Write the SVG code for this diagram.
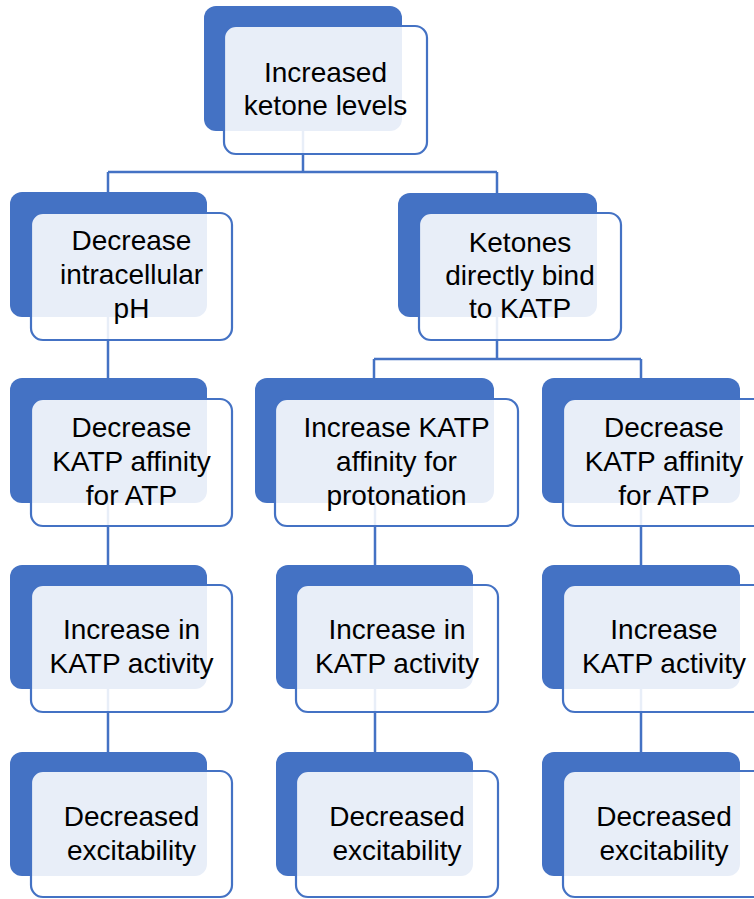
<svg xmlns="http://www.w3.org/2000/svg" width="754" height="899" viewBox="0 0 754 899">
<defs>
<style>
.bk{fill:#4472C4;}
.fr{fill:#FFFFFF;fill-opacity:0.88;stroke:#4472C4;stroke-width:2.2;}
.ln{stroke:#4472C4;stroke-width:2.5;fill:none;}
text{font-family:"Liberation Sans",Arial,sans-serif;font-size:28px;fill:#000;text-anchor:middle;}
</style>
</defs>
<rect width="754" height="899" fill="#FFFFFF"/>
<g id="connectors">
<path class="ln" d="M303,131 V172 M108,172 H497 M108,172 V192 M497,172 V193"/>
<path class="ln" d="M108,317 V378 M108,503 V565 M108,689 V752"/>
<path class="ln" d="M497,317 V359 M374,359 H641 M374,359 V378 M641,359 V378"/>
<path class="ln" d="M375,503 V565 M375,689 V752"/>
<path class="ln" d="M641,503 V565 M641,689 V752"/>
</g>
<g id="n1">
<rect class="bk" x="204" y="6" width="198" height="125" rx="12"/>
<rect class="fr" x="224" y="26" width="203" height="128" rx="12"/>
<text x="325.5" y="82">Increased</text>
<text x="325.5" y="115">ketone levels</text>
</g>
<g id="n2">
<rect class="bk" x="10" y="192" width="197" height="125" rx="12"/>
<rect class="fr" x="31" y="213" width="201" height="127" rx="12"/>
<text x="131.5" y="250">Decrease</text>
<text x="131.5" y="284">intracellular</text>
<text x="131.5" y="318">pH</text>
</g>
<g id="n3">
<rect class="bk" x="398" y="193" width="199" height="124" rx="12"/>
<rect class="fr" x="419" y="213" width="202" height="127" rx="12"/>
<text x="520" y="252">Ketones</text>
<text x="520" y="285">directly bind</text>
<text x="520" y="318">to KATP</text>
</g>
<g id="n4">
<rect class="bk" x="10" y="378" width="197" height="125" rx="12"/>
<rect class="fr" x="31" y="399" width="201" height="127" rx="12"/>
<text x="131.5" y="437">Decrease</text>
<text x="131.5" y="471">KATP affinity</text>
<text x="131.5" y="505">for ATP</text>
</g>
<g id="n5">
<rect class="bk" x="255" y="378" width="239" height="125" rx="12"/>
<rect class="fr" x="275" y="399" width="243" height="127" rx="12"/>
<text x="396.5" y="437">Increase KATP</text>
<text x="396.5" y="471">affinity for</text>
<text x="396.5" y="505">protonation</text>
</g>
<g id="n6">
<rect class="bk" x="542" y="378" width="198" height="125" rx="12"/>
<rect class="fr" x="563" y="399" width="203" height="127" rx="12"/>
<text x="664" y="437">Decrease</text>
<text x="664" y="471">KATP affinity</text>
<text x="664" y="505">for ATP</text>
</g>
<g id="n7">
<rect class="bk" x="10" y="565" width="197" height="124" rx="12"/>
<rect class="fr" x="31" y="585" width="201" height="127" rx="12"/>
<text x="131.5" y="639">Increase in</text>
<text x="131.5" y="673">KATP activity</text>
</g>
<g id="n8">
<rect class="bk" x="276" y="565" width="197" height="124" rx="12"/>
<rect class="fr" x="296" y="585" width="202" height="127" rx="12"/>
<text x="397" y="639">Increase in</text>
<text x="397" y="673">KATP activity</text>
</g>
<g id="n9">
<rect class="bk" x="542" y="565" width="198" height="124" rx="12"/>
<rect class="fr" x="563" y="585" width="203" height="127" rx="12"/>
<text x="664" y="639">Increase</text>
<text x="664" y="673">KATP activity</text>
</g>
<g id="n10">
<rect class="bk" x="10" y="752" width="197" height="124" rx="12"/>
<rect class="fr" x="31" y="771" width="201" height="126" rx="12"/>
<text x="131.5" y="826">Decreased</text>
<text x="131.5" y="860">excitability</text>
</g>
<g id="n11">
<rect class="bk" x="276" y="752" width="197" height="124" rx="12"/>
<rect class="fr" x="296" y="771" width="202" height="126" rx="12"/>
<text x="397" y="826">Decreased</text>
<text x="397" y="860">excitability</text>
</g>
<g id="n12">
<rect class="bk" x="542" y="752" width="198" height="124" rx="12"/>
<rect class="fr" x="563" y="771" width="203" height="126" rx="12"/>
<text x="664" y="826">Decreased</text>
<text x="664" y="860">excitability</text>
</g>
</svg>
